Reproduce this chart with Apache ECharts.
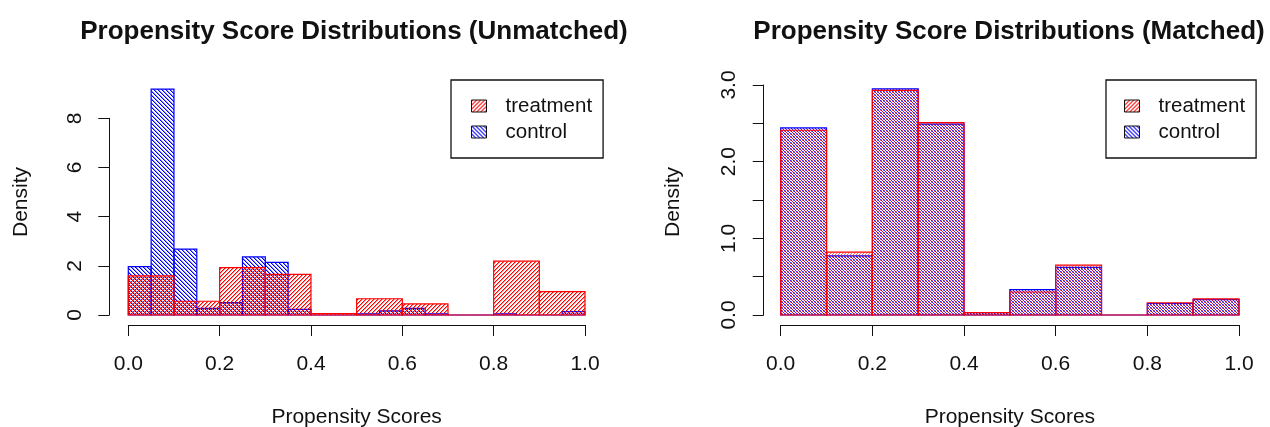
<!DOCTYPE html>
<html>
<head>
<meta charset="utf-8">
<script src="https://cdn.jsdelivr.net/npm/echarts@6/dist/echarts.min.js"></script>
<style>
  html, body { margin: 0; padding: 0; background: #fff; }
  #chart { width: 1270px; height: 427px; }
</style>
</head>
<body>
<div id="chart"></div>
<script>
// bin edges
const breaks10 = [0, 0.1, 0.2, 0.3, 0.4, 0.5, 0.6, 0.7, 0.8, 0.9, 1.0]
const breaks20 = [0, 0.05, 0.1, 0.15, 0.2, 0.25, 0.3, 0.35, 0.4, 0.45, 0.5,
  0.55, 0.6, 0.65, 0.7, 0.75, 0.8, 0.85, 0.9, 0.95, 1.0]

// densities
const unmatchedTreatment = [1.59, 0.56, 1.93, 1.65, 0.06, 0.66, 0.45, 0, 2.19, 0.95]
const unmatchedControl = [1.97, 9.19, 2.68, 0.27, 0.50, 2.36, 2.14, 0.23, 0, 0,
  0.05, 0.17, 0.27, 0.05, 0, 0, 0.05, 0, 0, 0.14]
const matchedTreatment = [2.41, 0.82, 2.93, 2.51, 0.03, 0.30, 0.65, 0, 0.16, 0.21]
const matchedControl = [2.44, 0.77, 2.95, 2.49, 0.03, 0.33, 0.62, 0, 0.15, 0.20]

// tick labels
const xTicks = ['0.0', '0.2', '0.4', '0.6', '0.8', '1.0']
const yTicksLeft = ['0', '2', '4', '6', '8']
const yTicksRight = ['0.0', '1.0', '2.0', '3.0']

const FONT = 'Liberation Sans, Arial, sans-serif'
const INK = '#111'

// diagonal line fill, dir 1 = "///", dir -1 = "\\\"
function hatch (rgb, period, dir, soft, alpha) {
  const c = document.createElement('canvas')
  c.width = period
  c.height = period
  const ctx = c.getContext('2d')
  const a = alpha || 1
  for (let y = 0; y < period; y++) {
    for (let x = 0; x < period; x++) {
      const k = dir > 0 ? (x + y) % period : ((x - y) % period + period) % period
      if (k === 0) {
        ctx.fillStyle = 'rgba(' + rgb + ',' + a + ')'
        ctx.fillRect(x, y, 1, 1)
      } else if (soft && k === 1) {
        ctx.fillStyle = 'rgba(' + rgb + ',' + soft + ')'
        ctx.fillRect(x, y, 1, 1)
      }
    }
  }
  return { type: 'pattern', image: c, repeat: 'repeat' }
}

const RED = '255,0,0'
const BLUE = '0,0,255'

function toBars (breaks, values) {
  return values.map((v, i) => [breaks[i], breaks[i + 1], v])
}

function histRender (color, pattern) {
  return function (params, api) {
    const p0 = api.coord([api.value(0), api.value(2)])
    const p1 = api.coord([api.value(1), 0])
    return {
      type: 'rect',
      shape: { x: p0[0], y: p0[1], width: p1[0] - p0[0], height: p1[1] - p0[1] },
      style: { fill: pattern, stroke: color, lineWidth: 1.2 }
    }
  }
}

function xAxis (gridIndex) {
  return {
    type: 'value', gridIndex: gridIndex, min: 0, max: 1, interval: 0.2, offset: 10,
    name: 'Propensity Scores', nameLocation: 'middle', nameGap: 82,
    nameTextStyle: { fontFamily: FONT, fontSize: 21, color: INK },
    axisLine: { show: true, onZero: false, lineStyle: { color: INK, width: 1 } },
    axisTick: { show: true, length: 11, lineStyle: { color: INK } },
    splitLine: { show: false },
    axisLabel: {
      fontFamily: FONT, fontSize: 21, color: INK, margin: 29,
      showMinLabel: true, showMaxLabel: true,
      formatter: v => xTicks[Math.round(v / 0.2)]
    }
  }
}

function yAxis (gridIndex, max, interval, offset, fmt) {
  return {
    type: 'value', gridIndex: gridIndex, min: 0, max: max, interval: interval, offset: offset,
    axisLine: { show: true, onZero: false, lineStyle: { color: INK, width: 1 } },
    axisTick: { show: true, length: 11, lineStyle: { color: INK } },
    splitLine: { show: false },
    axisLabel: {
      fontFamily: FONT, fontSize: 21, color: INK, margin: 24, rotate: 90,
      showMinLabel: true, showMaxLabel: true, formatter: fmt
    }
  }
}

function legend (left, top, padLeft) {
  return {
    orient: 'vertical', left: left, top: top, selectedMode: false,
    backgroundColor: '#fff', borderColor: INK, borderWidth: 1.3,
    padding: [13, 11, 13, padLeft], itemGap: 0,
    itemWidth: 15, itemHeight: 12, icon: 'rect',
    textStyle: { fontFamily: FONT, fontSize: 20.5, color: INK, lineHeight: 26, padding: [0, 0, 0, 14] },
    data: [
      { name: 'treatment', itemStyle: { color: hatch(RED, 4, 1, 0.45), borderColor: INK, borderWidth: 1 } },
      { name: 'control', itemStyle: { color: hatch(BLUE, 4, -1, 0.45), borderColor: INK, borderWidth: 1 } }
    ]
  }
}

const chart = echarts.init(document.getElementById('chart'), null, { renderer: 'canvas' })

const option = {
  animation: false,
  backgroundColor: '#fff',
  title: [
    {
      text: 'Propensity Score Distributions (Unmatched)', left: 349, top: 14, textAlign: 'center',
      textStyle: { fontFamily: FONT, fontSize: 26, fontWeight: 'bold', color: INK }
    },
    {
      text: 'Propensity Score Distributions (Matched)', left: 1004, top: 14, textAlign: 'center',
      textStyle: { fontFamily: FONT, fontSize: 26, fontWeight: 'bold', color: INK }
    }
  ],
  legend: [legend(451, 80, 20), legend(1106, 80, 18)],
  grid: [
    { left: 128.3, top: 118.3, width: 456.7, height: 196.7, outerBoundsMode: 'none', containLabel: false },
    { left: 780.7, top: 85, width: 458.3, height: 230, outerBoundsMode: 'none', containLabel: false }
  ],
  xAxis: [xAxis(0), xAxis(1)],
  yAxis: [
    yAxis(0, 8, 2, 19, v => yTicksLeft[Math.round(v / 2)]),
    yAxis(1, 3, 0.5, 17, v => (v % 1 === 0 ? yTicksRight[v] : ''))
  ],
  graphic: [
    { type: 'text', x: 21, y: 202, rotation: Math.PI / 2,
      style: { text: 'Density', font: '21px ' + FONT, fill: INK, textAlign: 'center', textVerticalAlign: 'middle' } },
    { type: 'text', x: 673, y: 202, rotation: Math.PI / 2,
      style: { text: 'Density', font: '21px ' + FONT, fill: INK, textAlign: 'center', textVerticalAlign: 'middle' } }
  ],
  series: [
    {
      name: 'control', type: 'custom', xAxisIndex: 0, yAxisIndex: 0, clip: false,
      encode: { x: [0, 1], y: 2 },
      renderItem: histRender('#0000ff', hatch(BLUE, 4, -1, 0.45)),
      data: toBars(breaks20, unmatchedControl)
    },
    {
      name: 'treatment', type: 'custom', xAxisIndex: 0, yAxisIndex: 0, clip: false,
      encode: { x: [0, 1], y: 2 },
      renderItem: histRender('#ff0000', hatch(RED, 4, 1, 0.45)),
      data: toBars(breaks10, unmatchedTreatment)
    },
    {
      name: 'control', type: 'custom', xAxisIndex: 1, yAxisIndex: 1, clip: false,
      encode: { x: [0, 1], y: 2 },
      renderItem: histRender('#0000ff', hatch(BLUE, 3, -1, 0, 0.85)),
      data: toBars(breaks10, matchedControl)
    },
    {
      name: 'treatment', type: 'custom', xAxisIndex: 1, yAxisIndex: 1, clip: false,
      encode: { x: [0, 1], y: 2 },
      renderItem: histRender('#ff0000', hatch(RED, 3, 1, 0, 0.6)),
      data: toBars(breaks10, matchedTreatment)
    }
  ]
}

chart.setOption(option)
</script>
</body>
</html>
